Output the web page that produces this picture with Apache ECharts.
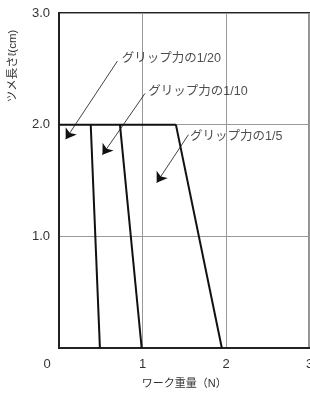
<!DOCTYPE html>
<html><head><meta charset="utf-8">
<script src="https://cdn.jsdelivr.net/npm/echarts@6/dist/echarts.min.js"></script>
<style>html,body{margin:0;padding:0;background:#fff}#c{width:310px;height:395px}</style>
</head><body><div id="c"></div>
<script>
// Data
const categories = ['グリップ力の1/20', 'グリップ力の1/10', 'グリップ力の1/5'];
const topY = 2.0;                 // ツメ長さ (cm) where the lines begin
const topX = [0.38, 0.73, 1.40];  // ワーク重量 at ツメ長さ 2.0
const bottomX = [0.49, 0.99, 1.95]; // ワーク重量 at ツメ長さ 0
const xTicks = [0, 1, 2, 3];
const yTicks = [0, 1, 2, 3];
// annotation arrows (data units): label anchor, arrow start, arrow tip
const labelPos = [[0.75, 2.59], [1.07, 2.30], [1.57, 1.89]];
const arrowStart = [[0.70, 2.57], [1.03, 2.28], [1.55, 1.91]];
const arrowTip = [[0.08, 1.87], [0.52, 1.73], [1.17, 1.48]];

const font = '"Liberation Sans", "Noto Sans CJK JP", sans-serif';
const numFont = '"Liberation Sans", Arial, sans-serif';
const series = [];
series.push({
  type: 'line', data: [[0, topY], [topX[topX.length - 1], topY]],
  symbol: 'none', lineStyle: { color: '#111', width: 2 }, z: 5, animation: false
});
categories.forEach((c, i) => {
  series.push({
    type: 'line', name: c, data: [[topX[i], topY], [bottomX[i], 0]],
    symbol: 'none', lineStyle: { color: '#111', width: 2 }, z: 5, animation: false
  });
});
series.push({
  type: 'lines', coordinateSystem: 'cartesian2d', animation: false,
  symbol: ['none', 'arrow'], symbolSize: [0, 10],
  lineStyle: { color: '#111', width: 0.8, opacity: 1 },
  data: categories.map((c, i) => ({ coords: [arrowStart[i], arrowTip[i]] })), z: 6
});
series.push({
  type: 'scatter', symbolSize: 0, animation: false,
  data: categories.map((c, i) => ({ value: labelPos[i], name: c })),
  label: { show: true, position: 'right', distance: 0, formatter: p => p.name,
           color: '#222', fontSize: 12.5, fontFamily: font }, z: 7
});

const chart = echarts.init(document.getElementById('c'), null, { renderer: 'canvas' });
chart.setOption({
  animation: false,
  backgroundColor: '#fff',
  grid: { left: 59, right: 0.5, top: 13, bottom: 47, show: true, borderColor: '#222', borderWidth: 2,
          containLabel: false, outerBoundsMode: 'none' },
  xAxis: {
    type: 'value', min: xTicks[0], max: xTicks[xTicks.length - 1], interval: 1,
    name: 'ワーク重量（N）', nameLocation: 'middle', nameGap: 30,
    nameTextStyle: { fontSize: 11, color: '#333', fontFamily: font },
    axisLine: { show: true, lineStyle: { color: '#222', width: 2 } },
    axisTick: { show: false },
    axisLabel: { fontSize: 13, color: '#333', fontFamily: numFont, margin: 10, hideOverlap: false,
      formatter: v => v === 0 ? '{o|0}' : String(v),
      rich: { o: { fontSize: 13, color: '#333', fontFamily: numFont, padding: [0, 24, 0, 0] } } },
    splitLine: { show: true, lineStyle: { color: '#999', width: 1 } }
  },
  yAxis: {
    type: 'value', min: yTicks[0], max: yTicks[yTicks.length - 1], interval: 1,
    axisLine: { show: true, lineStyle: { color: '#222', width: 2 } },
    axisTick: { show: false },
    axisLabel: { fontSize: 13, color: '#333', fontFamily: numFont, margin: 9,
      formatter: v => v === 0 ? '' : v.toFixed(1) },
    splitLine: { show: true, lineStyle: { color: '#999', width: 1 } }
  },
  graphic: [{
    type: 'text', x: 13, y: 66, rotation: Math.PI / 2,
    style: { text: 'ツメ長さℓ(cm)', fontSize: 11.5, fill: '#333', fontFamily: font,
             textAlign: 'center', textVerticalAlign: 'middle' }
  }],
  series: series
});
</script></body></html>
